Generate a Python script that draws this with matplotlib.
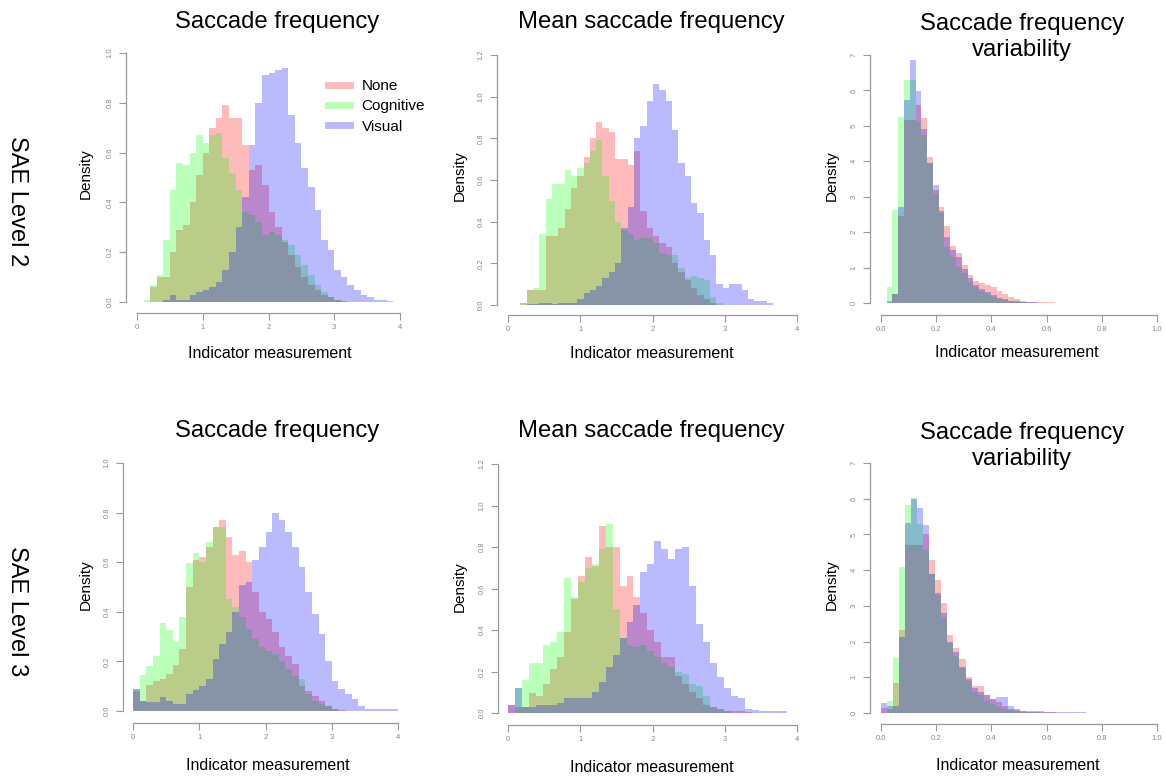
import numpy as np
import matplotlib.pyplot as plt
from matplotlib.lines import Line2D

plt.rcParams['font.family'] = ['Liberation Sans', 'DejaVu Sans']

W, H = 1165, 776

groups = ["None", "Cognitive", "Visual"]
titles = ["Saccade frequency", "Mean saccade frequency", "Saccade frequency\nvariability"]
rows = ["SAE Level 2", "SAE Level 3"]

# bin edges (40 bins per histogram)
edges_sf2 = np.linspace(0.0, 4.0, 41)
edges_msf2 = np.linspace(0.17, 3.67, 41)
edges_sfv2 = np.linspace(0.02, 0.86, 41)
edges_sf3 = np.linspace(0.0, 4.0, 41)
edges_msf3 = np.linspace(0.0, 3.86, 41)
edges_sfv3 = np.linspace(0.0, 0.875, 41)

# densities -- SAE level 2
none_sf2 = [0, 0, 0.06, 0.10, 0.10, 0.20, 0.29, 0.31, 0.40, 0.51, 0.60, 0.70, 0.74, 0.79, 0.74, 0.74, 0.63, 0.53, 0.55, 0.47,
            0.36, 0.30, 0.24, 0.19, 0.14, 0.10, 0.07, 0.05, 0.03, 0.02, 0.01, 0.005, 0, 0, 0, 0, 0, 0, 0, 0]
cog_sf2 = [0, 0.01, 0.07, 0.11, 0.25, 0.45, 0.56, 0.55, 0.60, 0.67, 0.64, 0.67, 0.68, 0.58, 0.52, 0.45, 0.36, 0.35, 0.32, 0.27,
           0.28, 0.27, 0.25, 0.23, 0.19, 0.15, 0.11, 0.07, 0.04, 0.02, 0.01, 0, 0, 0, 0, 0, 0, 0, 0, 0]
vis_sf2 = [0, 0, 0, 0, 0.01, 0.03, 0.01, 0.01, 0.03, 0.04, 0.05, 0.06, 0.08, 0.13, 0.20, 0.30, 0.42, 0.63, 0.80, 0.91,
           0.92, 0.93, 0.94, 0.75, 0.64, 0.54, 0.46, 0.37, 0.25, 0.21, 0.13, 0.10, 0.07, 0.05, 0.03, 0.02, 0.01, 0.01, 0.005, 0]

none_msf2 = [0.01, 0.07, 0.07, 0.07, 0.33, 0.33, 0.37, 0.46, 0.56, 0.62, 0.71, 0.80, 0.88, 0.85, 0.83, 0.70, 0.70, 0.67, 0.74, 0.45,
             0.37, 0.33, 0.30, 0.28, 0.20, 0.16, 0.12, 0.08, 0.05, 0.03, 0.01, 0, 0, 0, 0, 0, 0, 0, 0, 0]
cog_msf2 = [0.01, 0.07, 0.08, 0.34, 0.51, 0.58, 0.58, 0.65, 0.62, 0.66, 0.68, 0.74, 0.79, 0.62, 0.50, 0.40, 0.36, 0.34, 0.31, 0.32,
            0.32, 0.30, 0.25, 0.24, 0.24, 0.18, 0.13, 0.14, 0.13, 0.12, 0.04, 0.01, 0, 0, 0, 0, 0, 0, 0, 0]
vis_msf2 = [0, 0.005, 0.005, 0.01, 0.01, 0.005, 0.01, 0.01, 0.01, 0.03, 0.06, 0.07, 0.09, 0.13, 0.16, 0.20, 0.37, 0.47, 0.80, 0.86,
            0.98, 1.06, 1.03, 0.98, 0.84, 0.68, 0.62, 0.49, 0.44, 0.31, 0.24, 0.10, 0.08, 0.10, 0.10, 0.07, 0.03, 0.02, 0.02, 0.01]

none_sfv2 = [0, 0.25, 2.45, 5.17, 5.17, 5.59, 5.21, 4.13, 3.2, 2.72, 2.16, 1.6, 1.4, 1.07, 0.8, 0.62, 0.56, 0.5, 0.45, 0.35,
             0.25, 0.16, 0.1, 0.06, 0.04, 0.03, 0.02, 0.02, 0.015, 0.01, 0.01, 0.01, 0.01, 0.005, 0.005, 0.005, 0.005, 0.005, 0.005, 0.005]
cog_sfv2 = [0.46, 2.63, 5.26, 6.3, 6.3, 5.1, 4.75, 3.94, 3.1, 2.53, 1.59, 1.31, 1.02, 0.84, 0.6, 0.45, 0.35, 0.25, 0.18, 0.12,
            0.08, 0.05, 0.03, 0.02, 0.01, 0.01, 0.005, 0, 0, 0, 0, 0, 0, 0, 0, 0, 0, 0, 0, 0]
vis_sfv2 = [0.05, 0.25, 2.7, 5.73, 6.86, 5.97, 4.9, 3.94, 3.33, 2.6, 1.87, 1.5, 1.3, 0.95, 0.7, 0.5, 0.4, 0.3, 0.22, 0.15,
            0.1, 0.07, 0.05, 0.03, 0.02, 0.015, 0.01, 0.01, 0.005, 0.005, 0, 0, 0, 0, 0, 0, 0, 0, 0, 0]

# SAE level 3
none_sf3 = [0.08, 0.04, 0.105, 0.12, 0.13, 0.15, 0.185, 0.25, 0.50, 0.61, 0.62, 0.66, 0.74, 0.77, 0.70, 0.63, 0.645, 0.60, 0.48, 0.40,
            0.37, 0.32, 0.26, 0.22, 0.19, 0.10, 0.08, 0.06, 0.04, 0.02, 0.01, 0.005, 0, 0, 0, 0, 0, 0, 0, 0]
cog_sf3 = [0.09, 0.145, 0.18, 0.22, 0.353, 0.327, 0.28, 0.38, 0.596, 0.636, 0.60, 0.68, 0.74, 0.74, 0.45, 0.42, 0.38, 0.33, 0.29, 0.26,
           0.24, 0.23, 0.20, 0.17, 0.14, 0.13, 0.07, 0.04, 0.03, 0.02, 0.01, 0, 0, 0, 0, 0, 0, 0, 0, 0]
vis_sf3 = [0.09, 0.04, 0.037, 0.037, 0.058, 0.04, 0.03, 0.03, 0.07, 0.085, 0.10, 0.13, 0.21, 0.27, 0.32, 0.40, 0.51, 0.52, 0.61, 0.66,
           0.72, 0.797, 0.77, 0.72, 0.66, 0.58, 0.48, 0.39, 0.31, 0.20, 0.12, 0.09, 0.07, 0.05, 0.02, 0.01, 0.01, 0.01, 0.01, 0.01]

none_msf3 = [0.04, 0.03, 0.03, 0.095, 0.08, 0.14, 0.21, 0.27, 0.39, 0.55, 0.66, 0.75, 0.71, 0.90, 0.80, 0.80, 0.61, 0.66, 0.56, 0.48,
             0.40, 0.34, 0.27, 0.27, 0.18, 0.14, 0.10, 0.07, 0.04, 0.03, 0.02, 0.01, 0.01, 0.01, 0.005, 0, 0, 0, 0, 0]
cog_msf3 = [0, 0.12, 0.16, 0.24, 0.24, 0.33, 0.34, 0.39, 0.65, 0.56, 0.63, 0.70, 0.72, 0.79, 0.91, 0.50, 0.36, 0.33, 0.32, 0.33,
            0.30, 0.27, 0.24, 0.22, 0.20, 0.19, 0.14, 0.13, 0.08, 0.03, 0.02, 0.01, 0, 0, 0, 0, 0, 0, 0, 0]
vis_msf3 = [0.04, 0.12, 0.03, 0.03, 0.04, 0.04, 0.04, 0.05, 0.07, 0.07, 0.07, 0.07, 0.10, 0.15, 0.22, 0.28, 0.36, 0.44, 0.52, 0.68,
            0.72, 0.83, 0.79, 0.74, 0.79, 0.80, 0.61, 0.43, 0.34, 0.24, 0.175, 0.12, 0.08, 0.07, 0.02, 0.015, 0.01, 0.01, 0.01, 0.01]

none_sfv3 = [0.15, 0.1, 0.83, 2.33, 4.7, 4.7, 4.7, 5.0, 4.28, 3.72, 3.07, 2.18, 1.81, 1.5, 1.02, 0.75, 0.75, 0.51, 0.4, 0.3,
             0.2, 0.12, 0.08, 0.05, 0.03, 0.03, 0.02, 0.02, 0.015, 0.01, 0.01, 0.01, 0.005, 0.005, 0.005, 0.005, 0.005, 0.005, 0.005, 0.005]
cog_sfv3 = [0, 0.35, 1.53, 4.1, 5.83, 6.01, 5.3, 4.56, 3.9, 3.3, 2.7, 1.95, 1.6, 1.25, 0.9, 0.6, 0.5, 0.35, 0.25, 0.18,
            0.12, 0.08, 0.05, 0.03, 0.02, 0.02, 0.01, 0.01, 0.005, 0.005, 0, 0, 0, 0, 0, 0, 0, 0, 0, 0]
vis_sfv3 = [0.29, 0.2, 0.2, 2.14, 5.31, 6.0, 5.73, 5.27, 3.9, 3.35, 2.8, 2.0, 1.7, 1.3, 0.95, 0.7, 0.6, 0.5, 0.4, 0.45,
            0.45, 0.2, 0.1, 0.06, 0.05, 0.05, 0.05, 0.04, 0.04, 0.04, 0.04, 0.03, 0.02, 0.02, 0.01, 0.01, 0.01, 0.01, 0.01, 0.005]

xt_freq = [0, 1, 2, 3, 4]
xt_var = [0.0, 0.2, 0.4, 0.6, 0.8, 1.0]
yt_sf = [0.0, 0.2, 0.4, 0.6, 0.8, 1.0]
yt_msf = [0.0, 0.2, 0.4, 0.6, 0.8, 1.0, 1.2]
yt_var = [0, 1, 2, 3, 4, 5, 6, 7]

colors = ['red', 'lime', 'blue']
alpha = 0.27

fig = plt.figure(figsize=(W / 100, H / 100), dpi=100)


def fx(x):
    return x / W


def fy(y):
    return 1 - y / H


def make_panel(series, edges, xt, yt, xfmt, yfmt, box):
    # box: pixel positions of first/last ticks and the axis lines
    x0, x1, y0, y1, left, bottom = box
    sx = (x1 - x0) / (xt[-1] - xt[0])
    sy = (y0 - y1) / (yt[-1] - yt[0])
    padx = x0 - left
    pady = bottom - y0
    right = x1 + padx
    top = y1 - pady
    ax = fig.add_axes([fx(left), fy(bottom), (right - left) / W, (bottom - top) / H])
    ax.set_xlim(xt[0] - padx / sx, xt[-1] + padx / sx)
    ax.set_ylim(yt[0] - pady / sy, yt[-1] + pady / sy)
    for vals, c in zip(series, colors):
        ax.stairs(vals, edges, fill=True, color=c, alpha=alpha, linewidth=0)
    for s in ['top', 'right']:
        ax.spines[s].set_visible(False)
    ax.spines['left'].set_bounds(yt[0], yt[-1])
    ax.spines['bottom'].set_bounds(xt[0], xt[-1])
    for s in ['left', 'bottom']:
        ax.spines[s].set_color('#999999')
        ax.spines[s].set_linewidth(0.9)
    ax.set_xticks(xt)
    ax.set_xticklabels([xfmt.format(v) for v in xt])
    ax.set_yticks(yt)
    ax.set_yticklabels([yfmt.format(v) for v in yt], rotation=90, va='center')
    ax.tick_params(direction='out', length=5, width=0.8, color='#999999',
                   labelsize=5.5, labelcolor='#888888')
    ax.tick_params(axis='x', pad=3)
    ax.tick_params(axis='y', pad=4)
    ax.patch.set_alpha(0)
    return ax


ax1 = make_panel([none_sf2, cog_sf2, vis_sf2], edges_sf2, xt_freq, yt_sf, '{:d}', '{:.1f}',
                 (137, 400, 302, 53, 126, 313))
make_panel([none_msf2, cog_msf2, vis_msf2], edges_msf2, xt_freq, yt_msf, '{:d}', '{:.1f}',
           (508, 797, 305, 55, 497, 315))
make_panel([none_sfv2, cog_sfv2, vis_sfv2], edges_sfv2, xt_var, yt_var, '{:.1f}', '{:d}',
           (881, 1157, 303, 55, 870, 315))
make_panel([none_sf3, cog_sf3, vis_sf3], edges_sf3, xt_freq, yt_sf, '{:d}', '{:.1f}',
           (133, 398, 711, 463, 123, 723))
make_panel([none_msf3, cog_msf3, vis_msf3], edges_msf3, xt_freq, yt_msf, '{:d}', '{:.1f}',
           (508, 797, 713, 464, 498, 725))
make_panel([none_sfv3, cog_sfv3, vis_sfv3], edges_sfv3, xt_var, yt_var, '{:.1f}', '{:d}',
           (881, 1157, 713, 463, 870, 724))

# legend in the first panel
handles = [Line2D([], [], color=c, alpha=alpha, lw=5) for c in colors]
ax1.legend(handles, groups, loc='upper left', bbox_to_anchor=(fx(328), fy(79)),
           bbox_transform=fig.transFigure, frameon=False, fontsize=11,
           handlelength=1.45, handletextpad=0.75, labelspacing=0.42,
           borderpad=0, borderaxespad=0)

# titles
title_x = [277, 651, 1022]
for r, ty in enumerate([22, 431]):
    for c in range(3):
        y = ty + 15 if '\n' in titles[c] else ty
        fig.text(fx(title_x[c]), fy(y), titles[c], ha='center', va='center',
                 fontsize=17.2, linespacing=1.2)

# row labels
fig.text(fx(17), fy(201), rows[0], rotation=-90, ha='center', va='center', fontsize=17)
fig.text(fx(17), fy(611), rows[1], rotation=-90, ha='center', va='center', fontsize=17)

# axis labels
dens_pos = [(86, 174), (460, 176), (832, 176), (86, 585), (460, 587), (832, 585)]
for x, y in dens_pos:
    fig.text(fx(x), fy(y), "Density", rotation=90, ha='center', va='center', fontsize=11)
xlab_pos = [(270, 354), (652, 354), (1017, 353), (268, 765), (652, 767), (1018, 765)]
for x, y in xlab_pos:
    fig.text(fx(x), fy(y), "Indicator measurement", ha='center', va='center', fontsize=11.5)

fig.savefig('out.png', dpi=100)
